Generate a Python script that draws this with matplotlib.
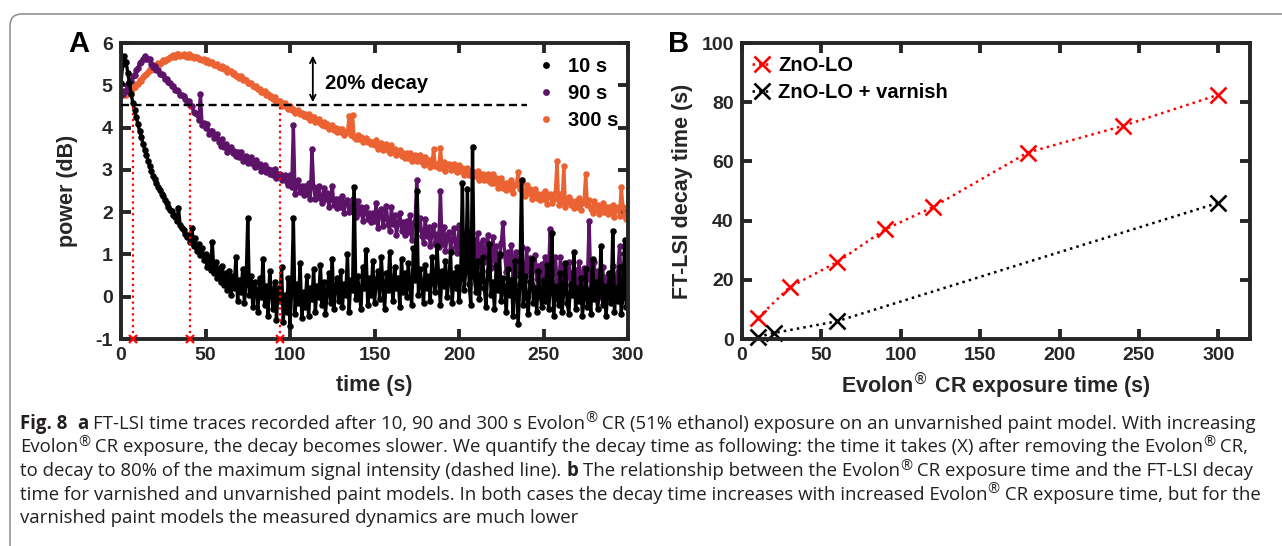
import numpy as np
import matplotlib
matplotlib.use("Agg")
import matplotlib.pyplot as plt
from matplotlib.patches import FancyBboxPatch
from matplotlib.transforms import IdentityTransform

plt.rcParams['font.family'] = ['Liberation Sans', 'DejaVu Sans']
plt.rcParams['axes.unicode_minus'] = False

# ---- panel A: FT-LSI power traces (dB), one value per second
power_10s = [
    5.05, 5.50, 5.70, 5.55, 5.30, 5.05, 4.80, 4.58, 4.42, 4.25,
    4.08, 3.92, 3.78, 3.62, 3.48, 3.35, 3.22, 3.08, 2.98, 2.86,
    2.78, 2.70, 2.60, 2.52, 2.44, 2.38, 2.28, 2.22, 2.12, 2.06,
    2.02, 1.94, 1.88, 1.80, 2.10, 1.70, 1.62, 1.58, 1.48, 1.42,
    1.45, 1.30, 1.62, 1.20, 1.38, 1.08, 1.25, 0.98, 1.15, 0.86,
    1.02, 0.70, 0.95, 0.62, 1.30, 0.55, 0.82, 0.45, 0.68, 0.35,
    0.72, 0.28, 0.55, 0.15, 0.60, 0.05, 0.48, 0.20, 0.95, -0.10,
    0.40, 0.10, 0.65, -0.15, 0.30, 1.85, 0.05, 0.50, -0.25, 0.35,
    0.15, -0.35, 0.45, 0.00, 0.90, -0.20, 0.25, -0.45, 0.60, 0.10,
    -0.30, 0.35, -0.55, 0.20, -0.10, 0.70, -0.60, 0.05, -0.35, 0.45,
    -0.70, 0.15, 1.85, -0.40, 0.30, -0.15, 0.80, -0.50, 0.10, -0.25,
    0.50, -0.45, 0.20, -0.05, 0.65, -0.35, 0.25, 0.00, 0.75, -0.20,
    0.35, -0.40, 0.10, 0.55, -0.15, 0.90, -0.30, 0.20, 0.45, -0.10,
    0.60, -0.25, 0.30, 0.05, 1.00, -0.35, 0.40, 0.15, 2.60, -0.05,
    0.50, 0.10, -0.30, 0.70, 0.20, 1.10, -0.20, 0.45, 0.05, 0.85,
    -0.15, 0.35, 0.60, -0.05, 0.95, 0.25, -0.30, 0.55, 0.15, 1.05,
    0.30, -0.10, 0.70, 0.20, 0.45, -0.25, 0.90, 0.10, 0.55, 0.00,
    0.80, 0.25, -0.20, 1.15, 0.40, 2.50, 0.05, 0.65, 0.30, -0.15,
    0.75, 0.20, 0.50, -0.10, 0.95, 0.35, 0.10, 1.20, 0.45, -0.20,
    0.60, 0.25, 0.85, 0.00, 0.40, 1.05, -0.15, 0.55, 0.20, 0.70,
    -0.10, 0.45, 2.70, 0.15, 0.60, 2.55, 0.30, -0.20, 3.55, 0.50,
    0.10, 0.85, -0.05, 0.40, 0.95, 0.20, -0.25, 0.60, 1.25, 0.05,
    0.35, -0.30, 0.75, 0.15, 1.00, -0.10, 0.45, 0.20, -0.35, 0.65,
    0.05, 0.40, -0.45, 0.85, 0.10, -0.65, 0.30, 2.75, -0.20, 0.50,
    0.00, -0.40, 0.35, 0.90, -0.15, 0.20, -0.35, 0.60, 0.05, -0.25,
    0.40, -0.10, 0.75, -0.30, 0.15, 1.50, -0.45, 0.25, 0.00, -0.20,
    0.55, -0.35, 0.10, 0.80, -0.15, -0.40, 0.30, 0.05, 1.05, -0.30,
    0.20, -0.10, 0.45, -0.45, 0.00, 0.65, -0.25, 0.15, -0.40, 0.90,
    -0.05, 0.35, -0.30, 0.10, 1.20, -0.20, 0.25, -0.45, 0.05, 0.55,
    -0.15, 1.55, -0.35, 0.20, -0.10, 0.70, -0.40, 0.00, 1.35, -0.25,
    0.30,
]

power_90s = [
    4.78, 4.79, 4.87, 4.87, 4.97, 5.07, 5.10, 5.21, 5.25, 5.36,
    5.41, 5.53, 5.55, 5.63, 5.69, 5.63, 5.63, 5.61, 5.51, 5.44,
    5.45, 5.37, 5.36, 5.27, 5.26, 5.24, 5.16, 5.14, 5.07, 5.05,
    4.98, 4.99, 4.89, 4.89, 4.86, 4.78, 4.76, 4.75, 4.67, 4.60,
    4.62, 4.54, 4.50, 4.36, 4.34, 4.32, 4.17, 4.80, 4.05, 4.11,
    4.00, 4.09, 3.85, 3.93, 3.92, 3.75, 3.78, 3.84, 3.66, 3.57,
    3.72, 3.55, 3.60, 3.42, 3.50, 3.55, 3.39, 3.44, 3.32, 3.42,
    3.31, 3.42, 3.21, 3.31, 3.32, 3.17, 3.22, 3.30, 3.14, 3.07,
    3.24, 3.09, 3.15, 2.98, 3.06, 3.12, 2.96, 3.02, 2.90, 3.00,
    2.89, 3.01, 2.80, 2.90, 2.91, 2.76, 2.81, 2.88, 2.72, 2.65,
    2.88, 2.60, 4.05, 2.43, 2.62, 2.76, 2.47, 2.61, 2.40, 2.62,
    2.43, 2.69, 2.30, 3.50, 2.59, 2.31, 2.44, 2.62, 2.33, 2.21,
    2.58, 2.30, 2.45, 2.13, 2.32, 2.62, 2.17, 2.31, 2.10, 2.32,
    2.13, 2.39, 1.99, 2.24, 2.28, 2.00, 2.12, 2.31, 2.01, 1.89,
    2.26, 1.98, 2.12, 1.80, 1.99, 2.13, 1.83, 1.97, 1.76, 1.98,
    1.80, 2.21, 1.62, 2.00, 2.07, 1.67, 1.87, 2.15, 1.72, 1.55,
    2.11, 1.71, 1.93, 1.47, 1.75, 1.98, 1.55, 1.77, 1.46, 1.80,
    1.52, 1.93, 1.34, 1.72, 1.79, 2.75, 1.59, 1.87, 1.44, 1.27,
    1.83, 1.43, 1.65, 1.19, 1.48, 1.70, 1.27, 1.49, 1.18, 2.50,
    1.24, 1.65, 1.07, 1.45, 1.53, 1.13, 1.33, 1.62, 1.19, 1.03,
    1.70, 1.17, 1.47, 0.86, 1.24, 1.55, 0.98, 1.28, 0.87, 1.33,
    0.96, 1.50, 0.73, 1.24, 1.34, 0.81, 1.07, 1.46, 0.89, 0.67,
    1.42, 0.88, 1.19, 0.57, 0.96, 1.27, 1.75, 1.00, 0.58, 1.05,
    0.68, 1.22, 0.45, 0.95, 1.06, 0.52, 0.79, 1.18, 0.60, 0.39,
    1.14, 0.60, 0.91, 0.29, 0.68, 0.99, 0.41, 0.72, 0.30, 0.77,
    0.40, 0.95, 0.19, 0.70, 1.60, 0.29, 0.56, 0.95, 0.39, 0.18,
    0.93, 0.40, 0.72, 0.11, 0.50, 0.82, 0.25, 0.56, 0.16, 0.63,
    0.26, 0.82, 0.05, 0.57, 0.68, 0.16, 0.43, 1.80, 0.26, 0.06,
    0.82, 0.29, 0.61, 0.00, 0.40, 0.71, 0.15, 0.46, 0.06, 0.53,
    0.16, 0.72, -0.04, 0.46, 0.58, 1.20, 0.34, 0.73, 0.17, -0.04,
    0.35,
]

power_300s = [
    4.81, 4.78, 4.82, 4.78, 4.83, 4.87, 4.87, 4.94, 4.95, 5.02,
    5.03, 5.13, 5.11, 5.20, 5.25, 5.26, 5.31, 5.38, 5.37, 5.39,
    5.48, 5.47, 5.52, 5.50, 5.55, 5.60, 5.58, 5.63, 5.62, 5.67,
    5.66, 5.72, 5.68, 5.73, 5.74, 5.70, 5.71, 5.74, 5.70, 5.67,
    5.73, 5.68, 5.70, 5.64, 5.66, 5.66, 5.61, 5.63, 5.59, 5.61,
    5.56, 5.59, 5.52, 5.54, 5.54, 5.48, 5.48, 5.50, 5.44, 5.41,
    5.45, 5.39, 5.40, 5.32, 5.33, 5.33, 5.27, 5.28, 5.22, 5.23,
    5.18, 5.21, 5.12, 5.14, 5.12, 5.06, 5.05, 5.06, 4.99, 4.95,
    4.99, 4.92, 4.92, 4.84, 4.85, 4.86, 4.78, 4.79, 4.72, 4.75,
    4.67, 4.72, 4.58, 4.64, 4.63, 4.52, 4.54, 4.58, 4.48, 4.43,
    4.52, 4.42, 4.45, 4.35, 4.39, 4.42, 4.31, 4.34, 4.27, 4.32,
    4.25, 4.31, 4.18, 4.24, 4.24, 4.14, 4.16, 4.20, 4.10, 4.05,
    4.14, 4.04, 4.08, 3.97, 4.02, 4.05, 3.94, 3.98, 3.90, 3.96,
    3.89, 3.96, 3.83, 3.90, 3.90, 4.28, 3.83, 4.30, 3.78, 3.74,
    3.83, 3.74, 3.77, 3.67, 3.71, 3.75, 3.65, 3.68, 3.61, 3.66,
    3.58, 3.70, 3.50, 3.61, 3.63, 3.48, 3.54, 3.62, 3.47, 3.41,
    3.58, 3.44, 3.50, 3.34, 3.42, 3.48, 3.33, 3.40, 3.28, 3.39,
    3.28, 3.41, 3.20, 3.32, 3.34, 3.20, 3.25, 3.34, 3.19, 3.12,
    3.30, 3.16, 3.23, 3.07, 3.16, 3.50, 3.08, 3.15, 3.04, 3.52,
    3.05, 3.18, 2.98, 3.11, 3.13, 2.99, 3.05, 3.15, 3.00, 2.94,
    3.12, 2.98, 3.04, 2.88, 2.97, 3.04, 2.89, 2.96, 2.85, 2.95,
    2.85, 2.98, 2.77, 2.89, 2.90, 2.76, 2.81, 2.90, 2.74, 2.68,
    2.90, 2.70, 2.80, 2.56, 2.70, 2.80, 2.58, 2.69, 2.52, 2.69,
    2.55, 2.75, 2.45, 2.64, 2.67, 2.95, 2.55, 2.69, 2.47, 2.38,
    2.65, 2.45, 2.55, 2.31, 2.45, 2.55, 2.33, 2.44, 2.28, 2.44,
    2.30, 2.50, 2.20, 2.39, 2.42, 2.22, 2.32, 2.46, 3.20, 2.16,
    2.43, 2.23, 3.10, 2.12, 2.24, 2.35, 2.17, 2.26, 2.10, 2.27,
    2.12, 2.33, 2.04, 2.22, 2.27, 2.90, 2.16, 2.29, 2.08, 1.99,
    2.27, 2.07, 2.18, 1.96, 2.10, 2.22, 2.00, 2.11, 1.95, 2.12,
    1.97, 2.18, 1.89, 2.07, 2.11, 1.90, 2.60, 2.13, 1.92, 1.83,
    1.98,
]

trace_labels = ['10 s', '90 s', '300 s']
trace_colors = ['#000000', '#5c1368', '#eb6233']
decay_times = [7, 41, 94]      # the red X marks
threshold = 4.54               # 80 % of maximum
arrow_x, arrow_y = 113.5, (4.60, 5.70)

# ---- panel B: decay time vs exposure time
exposure_lo = [10, 30, 60, 90, 120, 180, 240, 300]
decay_lo = [7.1, 17.5, 26, 37, 44.5, 63, 72, 82.5]
exposure_var = [10, 20, 60, 300]
decay_var = [0.7, 2, 6, 46]

W, H = 1282, 546
fig = plt.figure(figsize=(W / 100, H / 100), dpi=100)
axc = '#262626'

def style(ax):
    for s in ax.spines.values():
        s.set_linewidth(2.8)
        s.set_color(axc)
    ax.tick_params(direction='in', length=7, width=2.8, top=True, right=True,
                   color=axc, labelcolor=axc, labelsize=14, pad=6)
    for lab in ax.get_xticklabels() + ax.get_yticklabels():
        lab.set_fontweight('bold')

# panel A
axA = fig.add_axes([121 / W, 1 - 339 / H, 507 / W, 296 / H])
series = [power_10s, power_90s, power_300s]
handles = []
for i in [2, 1, 0]:
    tt = np.arange(len(series[i]))
    # trace joining the samples fills the dense noise band, dots on top
    axA.plot(tt, series[i], '-', lw=2.4, color=trace_colors[i], zorder=2 + (2 - i) * 0.1)
    h, = axA.plot(tt, series[i], 'o', ms=4.7, mec='none',
                  color=trace_colors[i], zorder=2 + (2 - i) * 0.1)
    handles.append(h)
handles = handles[::-1]
for t in decay_times:
    axA.plot([t, t], [-1, threshold], ':', color='red', lw=1.6, zorder=4)
    axA.plot([t], [-1], 'x', color='red', ms=6, mew=1.6, clip_on=False, zorder=5)
axA.plot([0, 240], [threshold, threshold], color='black', lw=1.7,
         dashes=(3.4, 1.9), zorder=4)
axA.annotate('', xy=(arrow_x, arrow_y[1]), xytext=(arrow_x, arrow_y[0]),
             arrowprops=dict(arrowstyle='<->', lw=1.3, color='black',
                             shrinkA=0, shrinkB=0, mutation_scale=10))
axA.text(120.5, 5.05, '20% decay', fontsize=14.5, fontweight='bold', va='center')
axA.set_xlim(0, 300)
axA.set_ylim(-1, 6)
axA.set_xticks(range(0, 301, 50))
axA.set_yticks(range(-1, 7))
axA.set_xlabel('time (s)', fontsize=15.5, fontweight='bold', color=axc)
axA.set_ylabel('power (dB)', fontsize=15.5, fontweight='bold', color=axc)
axA.xaxis.set_label_coords(0.5, -0.12)
axA.yaxis.set_label_coords(-0.085, 0.5)
style(axA)
axA.legend(handles, trace_labels, loc='upper left', bbox_to_anchor=(0.826, 0.952),
           frameon=False, prop={'weight': 'bold', 'size': 14.5}, markerscale=1.05,
           handlelength=0.6, handletextpad=0.8, labelspacing=0.4,
           borderpad=0, borderaxespad=0)

# panel B
axB = fig.add_axes([742 / W, 1 - 339 / H, 508 / W, 296 / H])
axB.plot(exposure_lo, decay_lo, ':', color='red', lw=1.8, marker='x', ms=11,
         mew=1.9, label='ZnO-LO', clip_on=False)
axB.plot(exposure_var, decay_var, ':', color='black', lw=1.8, marker='x', ms=11,
         mew=1.9, label='ZnO-LO + varnish', clip_on=False)
axB.set_xlim(0, 320)
axB.set_ylim(0, 100)
axB.set_xticks(range(0, 301, 50))
axB.set_yticks(range(0, 101, 20))
axB.set_xlabel(r'Evolon$^{\circledR}$ CR exposure time (s)', fontsize=15.5,
               fontweight='bold', color=axc)
axB.set_ylabel('FT-LSI decay time (s)', fontsize=15.5, fontweight='bold', color=axc)
axB.xaxis.set_label_coords(0.5, -0.105)
axB.yaxis.set_label_coords(-0.096, 0.5)
style(axB)
axB.legend(loc='upper left', bbox_to_anchor=(0.02, 0.955), frameon=False,
           prop={'weight': 'bold', 'size': 14.5}, handlelength=1.0,
           handletextpad=0.3, labelspacing=0.38, borderpad=0, borderaxespad=0)

fig.text(79 / W, 1 - 44 / H, 'A', fontsize=21, fontweight='bold', ha='center', va='center')
fig.text(679 / W, 1 - 44 / H, 'B', fontsize=21, fontweight='bold', ha='center', va='center')

# frame around the figure
box = FancyBboxPatch((10, -40), 1320, 532 + 40, boxstyle='round,pad=0,rounding_size=12',
                     transform=IdentityTransform(), fill=False, edgecolor='#8a8a8a', lw=1.1)
fig.add_artist(box)

# caption: segments are (text, weight); 'sup' draws a raised registered sign
cap_size = 13.4
cap_font = dict(family=['Open Sans', 'DejaVu Sans'], color='#231f20')
caption = [
    [('Fig. 8', 'bold'), ('  ', None), ('a', 'bold'), (' ', None),
     ('FT-LSI time traces recorded after 10, 90 and 300 s Evolon', 'normal'), ('®', 'sup'),
     (' CR (51% ethanol) exposure on an unvarnished paint model. With increasing', 'normal')],
    [('Evolon', 'normal'), ('®', 'sup'),
     (' CR exposure, the decay becomes slower. We quantify the decay time as '
      'following: the time it takes (X) after removing the Evolon', 'normal'), ('®', 'sup'),
     (' CR,', 'normal')],
    [('to decay to 80% of the maximum signal intensity (dashed line).', 'normal'), (' ', None),
     ('b', 'bold'), (' ', None),
     ('The relationship between the Evolon', 'normal'), ('®', 'sup'),
     (' CR exposure time and the FT-LSI decay', 'normal')],
    [('time for varnished and unvarnished paint models. In both cases the decay time increases '
      'with increased Evolon', 'normal'), ('®', 'sup'),
     (' CR exposure time, but for the', 'normal')],
    [('varnished paint models the measured dynamics are much lower', 'normal')],
]
renderer = fig.canvas.get_renderer()
probe1 = fig.text(0, 0, 'x x', fontsize=cap_size, **cap_font)
probe2 = fig.text(0, 0, 'xx', fontsize=cap_size, **cap_font)
space_w = probe1.get_window_extent(renderer).width - probe2.get_window_extent(renderer).width
probe1.remove()
probe2.remove()
for k, parts in enumerate(caption):
    x = 20
    y = 429 + 23.5 * k
    for text, weight in parts:
        if weight is None:
            x += space_w * len(text)
            continue
        if weight == 'sup':
            t = fig.text(x / W, 1 - (y - 6.5) / H, text, fontsize=cap_size * 0.78,
                         va='baseline', ha='left', **cap_font)
        else:
            t = fig.text(x / W, 1 - y / H, text, fontsize=cap_size, fontweight=weight,
                         va='baseline', ha='left', **cap_font)
        x += t.get_window_extent(renderer).width

fig.savefig('out.png', dpi=100)
